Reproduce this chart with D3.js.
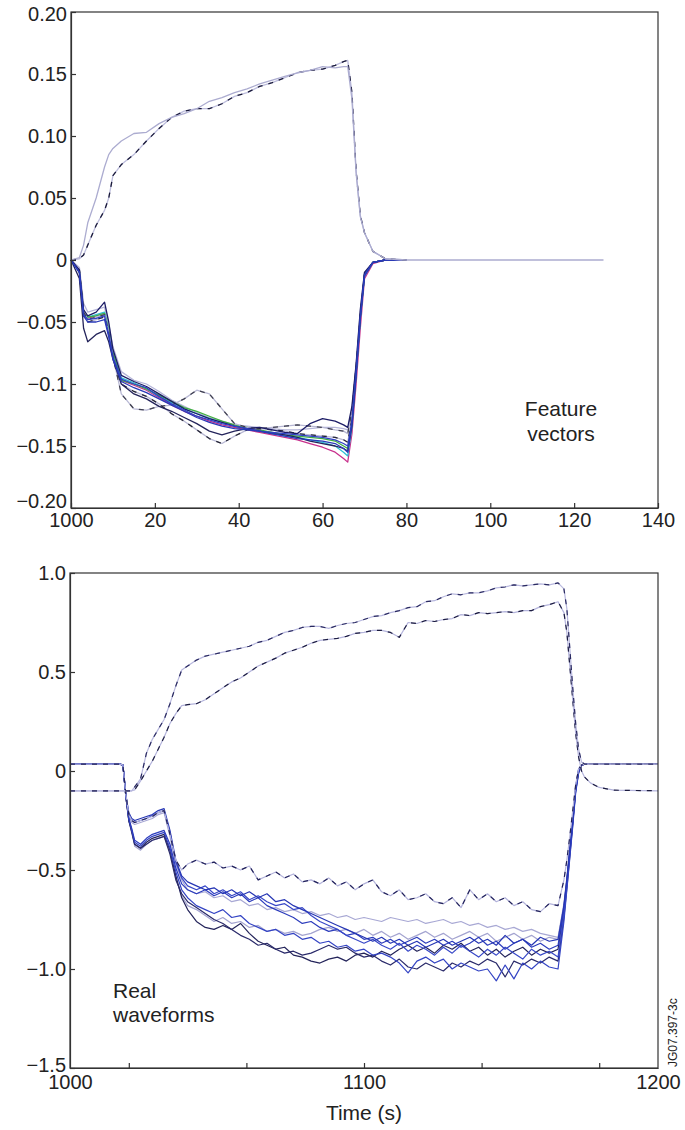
<!DOCTYPE html>
<html>
<head>
<meta charset="utf-8">
<script src="https://cdnjs.cloudflare.com/ajax/libs/d3/7.8.5/d3.min.js"></script>
<style>
body { margin: 0; background: #fff; }
svg text { font-family: "Liberation Sans", Arial, Helvetica, sans-serif; fill: #222; }
.axis text { font-size: 20px; }
.axis path, .axis line { stroke: #333; stroke-width: 1.2; }
.note { font-size: 21px; }
</style>
</head>
<body>
<svg id="chart" width="685" height="1130"></svg>
<script>
// ---- top panel: feature vectors ----
var featureIndex = [0, 2, 3, 4, 6, 8, 9, 10, 12, 15, 18, 21, 24, 27, 30, 33, 36, 39, 42, 45, 48, 51, 54, 57, 60, 63, 65, 66, 67, 68, 69, 70, 72, 75, 80, 127];

var fvPosA = [0, 0.002, 0.012, 0.03, 0.05, 0.075, 0.085, 0.09,
  0.096, 0.102, 0.103, 0.11, 0.115, 0.118, 0.122, 0.128, 0.131, 0.135, 0.138, 0.142, 0.145, 0.148, 0.151, 0.153, 0.156, 0.155,
  0.156, 0.156, 0.13, 0.07, 0.035, 0.022, 0.007, 0.001, 0, 0];
var fvPosB = [0, 0.001, 0.004, 0.012, 0.028, 0.04, 0.05, 0.068,
  0.077, 0.085, 0.096, 0.106, 0.115, 0.12, 0.122, 0.122, 0.126, 0.132, 0.135, 0.14, 0.143, 0.147, 0.151, 0.153, 0.154, 0.157,
  0.16, 0.161, 0.135, 0.072, 0.036, 0.022, 0.007, 0.001, 0];

var fvNeg1 = [0, -0.006, -0.035, -0.042, -0.04, -0.038, -0.052, -0.07,
  -0.09, -0.097, -0.1, -0.106, -0.113, -0.118, -0.123, -0.127, -0.13, -0.133, -0.134, -0.135, -0.136, -0.137, -0.137, -0.136, -0.135, -0.135,
  -0.136, -0.137, -0.12, -0.085, -0.042, -0.01, -0.002, 0, 0];
var fvNeg2 = [0, -0.008, -0.04, -0.045, -0.042, -0.034, -0.05, -0.072,
  -0.093, -0.098, -0.102, -0.108, -0.114, -0.12, -0.124, -0.128, -0.131, -0.134, -0.136, -0.135, -0.137, -0.139, -0.14, -0.132, -0.128, -0.13,
  -0.133, -0.135, -0.118, -0.084, -0.04, -0.01, -0.002, 0, 0];
var fvNeg3 = [0, -0.01, -0.044, -0.048, -0.047, -0.045, -0.06, -0.078,
  -0.096, -0.1, -0.103, -0.11, -0.116, -0.121, -0.126, -0.129, -0.132, -0.134, -0.136, -0.138, -0.139, -0.14, -0.141, -0.142, -0.143, -0.145,
  -0.148, -0.15, -0.13, -0.09, -0.046, -0.012, -0.002, 0, 0];
var fvNeg4 = [0, -0.01, -0.045, -0.05, -0.05, -0.048, -0.062, -0.08,
  -0.098, -0.103, -0.107, -0.112, -0.117, -0.122, -0.127, -0.131, -0.134, -0.136, -0.137, -0.138, -0.14, -0.142, -0.144, -0.145, -0.146, -0.148,
  -0.152, -0.155, -0.132, -0.092, -0.047, -0.013, -0.002, 0, 0];
var fvNeg5 = [0, -0.015, -0.055, -0.066, -0.06, -0.057, -0.066, -0.08,
  -0.1, -0.108, -0.112, -0.118, -0.122, -0.127, -0.132, -0.138, -0.141, -0.138, -0.136, -0.138, -0.14, -0.141, -0.143, -0.146, -0.148, -0.15,
  -0.152, -0.154, -0.134, -0.092, -0.046, -0.012, -0.002, 0, 0];
var fvNeg6 = [0, -0.008, -0.042, -0.048, -0.046, -0.044, -0.058, -0.078,
  -0.108, -0.12, -0.121, -0.118, -0.117, -0.112, -0.105, -0.108, -0.12, -0.132, -0.135, -0.136, -0.135, -0.134, -0.133, -0.134, -0.135, -0.137,
  -0.138, -0.14, -0.122, -0.086, -0.044, -0.011, -0.002, 0, 0];
var fvNeg7 = [0, -0.01, -0.045, -0.05, -0.048, -0.046, -0.06, -0.078,
  -0.1, -0.106, -0.11, -0.116, -0.124, -0.13, -0.137, -0.144, -0.148, -0.142, -0.137, -0.136, -0.137, -0.138, -0.14, -0.141, -0.142, -0.143,
  -0.145, -0.147, -0.128, -0.09, -0.045, -0.012, -0.002, 0, 0];
var fvNeg8 = [0, -0.009, -0.043, -0.047, -0.045, -0.043, -0.057, -0.076,
  -0.097, -0.101, -0.105, -0.111, -0.117, -0.122, -0.126, -0.13, -0.133, -0.135, -0.137, -0.139, -0.141, -0.143, -0.145, -0.148, -0.151, -0.155,
  -0.16, -0.163, -0.14, -0.1, -0.055, -0.015, -0.003, 0, 0];
var fvNeg9 = [0, -0.009, -0.043, -0.046, -0.044, -0.042, -0.056, -0.074,
  -0.095, -0.099, -0.104, -0.11, -0.115, -0.12, -0.124, -0.128, -0.131, -0.134, -0.136, -0.138, -0.14, -0.142, -0.143, -0.145, -0.147, -0.15,
  -0.155, -0.158, -0.135, -0.093, -0.048, -0.013, -0.002, 0, 0];
var fvNeg10 = [0, -0.009, -0.043, -0.046, -0.045, -0.043, -0.057, -0.075,
  -0.097, -0.1, -0.104, -0.109, -0.114, -0.119, -0.122, -0.126, -0.13, -0.133, -0.135, -0.137, -0.139, -0.141, -0.142, -0.143, -0.144, -0.146,
  -0.15, -0.152, -0.13, -0.09, -0.046, -0.012, -0.002, 0, 0];

var topXTicks = [0, 20, 40, 60, 80, 100, 120, 140];
var topXLabels = ["1000", "20", "40", "60", "80", "100", "120", "140"];
var topYTicks = [0.2, 0.15, 0.1, 0.05, 0, -0.05, -0.1, -0.15, -0.2];
var topYLabels = ["0.20", "0.15", "0.10", "0.05", "0", "\u22120.05", "\u22120.1", "\u22120.15", "\u22120.20"];

// ---- bottom panel: real waveforms ----
var timeS = [1000, 1017, 1018, 1019, 1020, 1021, 1022, 1024, 1026, 1028, 1030, 1032, 1034, 1036, 1038, 1040,
  1043, 1046, 1049, 1052, 1055, 1058, 1061, 1064, 1067, 1070, 1073, 1076, 1079, 1082, 1085, 1088, 1091, 1094, 1097, 1100, 1103,
  1106, 1109, 1112, 1115, 1118, 1121, 1124, 1127, 1130, 1133, 1136, 1139, 1142, 1145, 1148, 1151, 1154, 1157, 1160, 1163, 1166,
  1168, 1169, 1170, 1171, 1172, 1173, 1174, 1175, 1177, 1180, 1185, 1200];

var rwPos1 = [-0.1, -0.1, -0.1, -0.1, -0.1, -0.1, -0.08, -0.04, 0.09, 0.16, 0.21, 0.26, 0.34, 0.43, 0.51, 0.53,
  0.56, 0.58, 0.59, 0.6, 0.61, 0.62, 0.63, 0.65, 0.66, 0.68, 0.7, 0.71, 0.725, 0.73, 0.73, 0.72, 0.735, 0.745, 0.75, 0.765, 0.78,
  0.785, 0.8, 0.81, 0.825, 0.83, 0.855, 0.86, 0.88, 0.895, 0.89, 0.9, 0.9, 0.91, 0.925, 0.93, 0.94, 0.935, 0.94, 0.945, 0.94, 0.95,
  0.92, 0.82, 0.62, 0.42, 0.24, 0.11, 0.045, 0.035, 0.035, 0.035, 0.035, 0.035];
var rwPos2 = [-0.1, -0.1, -0.1, -0.1, -0.1, -0.1, -0.095, -0.05, 0.0, 0.05, 0.11, 0.17, 0.24, 0.29, 0.33, 0.335,
  0.34, 0.36, 0.39, 0.42, 0.45, 0.47, 0.5, 0.53, 0.55, 0.57, 0.595, 0.61, 0.625, 0.645, 0.66, 0.665, 0.67, 0.68, 0.695, 0.7, 0.71,
  0.71, 0.7, 0.675, 0.75, 0.745, 0.76, 0.755, 0.765, 0.77, 0.79, 0.785, 0.8, 0.795, 0.8, 0.805, 0.8, 0.81, 0.81, 0.83, 0.84, 0.855,
  0.8, 0.7, 0.53, 0.36, 0.19, 0.07, 0.0, -0.03, -0.06, -0.083, -0.097, -0.1];

var rwNeg1 = [0.035, 0.035, 0.03, -0.12, -0.22, -0.25, -0.26, -0.25, -0.24, -0.23, -0.21, -0.2, -0.32, -0.45, -0.5, -0.47,
  -0.45, -0.47, -0.46, -0.49, -0.48, -0.5, -0.48, -0.55, -0.53, -0.51, -0.54, -0.52, -0.56, -0.55, -0.57, -0.54, -0.58, -0.56, -0.6, -0.57, -0.55,
  -0.61, -0.63, -0.6, -0.65, -0.64, -0.62, -0.66, -0.67, -0.64, -0.69, -0.6, -0.65, -0.62, -0.66, -0.64, -0.68, -0.66, -0.7, -0.71, -0.67, -0.68,
  -0.55, -0.45, -0.33, -0.2, -0.07, 0.01, 0.03, 0.035, 0.035, 0.035, 0.035, 0.035];
var rwNeg2 = [0.035, 0.035, 0.03, -0.12, -0.21, -0.24, -0.25, -0.24, -0.23, -0.22, -0.2, -0.19, -0.3, -0.45, -0.53, -0.56,
  -0.58, -0.6, -0.59, -0.62, -0.6, -0.63, -0.61, -0.64, -0.62, -0.66, -0.65, -0.68, -0.7, -0.72, -0.74, -0.76, -0.78, -0.8, -0.82, -0.84, -0.86,
  -0.84, -0.87, -0.85, -0.88, -0.86, -0.89, -0.87, -0.85, -0.88, -0.86, -0.84, -0.87, -0.85, -0.88, -0.83, -0.87, -0.85, -0.88, -0.84, -0.86, -0.85,
  -0.68, -0.55, -0.4, -0.25, -0.09, 0.0, 0.03, 0.035, 0.035, 0.035, 0.035, 0.035];
var rwNeg3 = [0.035, 0.035, 0.03, -0.13, -0.23, -0.26, -0.27, -0.26, -0.25, -0.24, -0.22, -0.21, -0.33, -0.47, -0.55, -0.6,
  -0.62, -0.61, -0.64, -0.63, -0.66, -0.65, -0.68, -0.67, -0.7, -0.69, -0.71, -0.7, -0.72, -0.71, -0.73, -0.72, -0.74, -0.73, -0.75, -0.74, -0.75,
  -0.76, -0.74, -0.75, -0.76, -0.75, -0.77, -0.76, -0.75, -0.77, -0.76, -0.78, -0.77, -0.79, -0.78, -0.8, -0.79, -0.81, -0.8, -0.82, -0.83, -0.84,
  -0.67, -0.54, -0.39, -0.24, -0.08, 0.01, 0.03, 0.035, 0.035, 0.035, 0.035, 0.035];
var rwNeg4 = [0.035, 0.035, 0.03, -0.12, -0.22, -0.25, -0.26, -0.25, -0.24, -0.225, -0.21, -0.2, -0.31, -0.46, -0.54, -0.58,
  -0.6, -0.58, -0.62, -0.6, -0.63, -0.61, -0.65, -0.63, -0.66, -0.68, -0.67, -0.7, -0.69, -0.73, -0.76, -0.78, -0.8, -0.83, -0.85, -0.87, -0.85,
  -0.88, -0.9, -0.87, -0.91, -0.88, -0.9, -0.93, -0.89, -0.92, -0.88, -0.91, -0.94, -0.9, -0.93, -0.89, -0.92, -0.95, -0.9, -0.93, -0.91, -0.94,
  -0.72, -0.57, -0.42, -0.26, -0.1, 0.0, 0.03, 0.035, 0.035, 0.035, 0.035, 0.035];
var rwNeg5 = [0.035, 0.035, 0.03, -0.13, -0.25, -0.3, -0.37, -0.39, -0.36, -0.34, -0.33, -0.32, -0.4, -0.53, -0.64, -0.7,
  -0.76, -0.79, -0.8, -0.78, -0.8, -0.77, -0.82, -0.86, -0.88, -0.9, -0.89, -0.93, -0.94, -0.96, -0.97, -0.95, -0.94, -0.96, -0.93, -0.92, -0.94,
  -0.91, -0.93, -0.9, -0.88, -0.91, -0.89, -0.92, -0.88, -0.9, -0.87, -0.91, -0.89, -0.93, -0.9, -0.94, -0.91, -0.89, -0.93, -0.9, -0.92, -0.9,
  -0.7, -0.56, -0.41, -0.26, -0.09, 0.0, 0.03, 0.035, 0.035, 0.035, 0.035, 0.035];
var rwNeg6 = [0.035, 0.035, 0.03, -0.13, -0.24, -0.3, -0.36, -0.38, -0.35, -0.33, -0.32, -0.31, -0.39, -0.51, -0.6, -0.64,
  -0.68, -0.7, -0.72, -0.7, -0.74, -0.73, -0.77, -0.79, -0.81, -0.8, -0.83, -0.82, -0.85, -0.84, -0.87, -0.86, -0.89, -0.88, -0.91, -0.9, -0.93,
  -0.92, -0.94, -0.97, -1.02, -0.96, -0.94, -0.97, -0.95, -1.0, -0.97, -0.99, -1.01, -1.0, -1.06, -0.98, -1.05, -0.97, -1.0, -0.96, -0.99, -1.0,
  -0.76, -0.6, -0.44, -0.28, -0.11, -0.01, 0.03, 0.035, 0.035, 0.035, 0.035, 0.035];
var rwNeg7 = [0.035, 0.035, 0.03, -0.12, -0.24, -0.29, -0.35, -0.37, -0.34, -0.32, -0.31, -0.3, -0.37, -0.49, -0.57, -0.6,
  -0.62, -0.6, -0.63, -0.61, -0.64, -0.62, -0.66, -0.64, -0.68, -0.7, -0.72, -0.74, -0.77, -0.76, -0.79, -0.81, -0.8, -0.83, -0.82, -0.85, -0.84,
  -0.87, -0.85, -0.88, -0.86, -0.84, -0.87, -0.85, -0.88, -0.86, -0.89, -0.87, -0.84, -0.88, -0.86, -0.9, -0.87, -0.85, -0.89, -0.87, -0.9, -0.88,
  -0.69, -0.55, -0.4, -0.25, -0.08, 0.01, 0.03, 0.035, 0.035, 0.035, 0.035, 0.035];
var rwNeg8 = [0.035, 0.035, 0.03, -0.13, -0.25, -0.31, -0.38, -0.4, -0.37, -0.35, -0.34, -0.33, -0.41, -0.54, -0.63, -0.68,
  -0.7, -0.73, -0.76, -0.74, -0.77, -0.76, -0.79, -0.78, -0.81, -0.8, -0.82, -0.81, -0.83, -0.82, -0.8, -0.79, -0.81, -0.8, -0.82, -0.8, -0.83,
  -0.81, -0.84, -0.82, -0.85, -0.83, -0.81, -0.84, -0.82, -0.85, -0.83, -0.81, -0.84, -0.82, -0.86, -0.84, -0.82, -0.85, -0.83, -0.86, -0.84, -0.85,
  -0.68, -0.54, -0.39, -0.24, -0.08, 0.01, 0.03, 0.035, 0.035, 0.035, 0.035, 0.035];
var rwNeg9 = [0.035, 0.035, 0.03, -0.13, -0.25, -0.31, -0.37, -0.39, -0.37, -0.35, -0.34, -0.33, -0.42, -0.55, -0.62, -0.66,
  -0.69, -0.72, -0.75, -0.77, -0.8, -0.83, -0.85, -0.88, -0.87, -0.9, -0.92, -0.91, -0.93, -0.92, -0.9, -0.88, -0.9, -0.89, -0.92, -0.94, -0.93,
  -0.96, -0.98, -0.95, -0.99, -1.0, -0.97, -0.99, -1.01, -0.97, -0.99, -0.96, -0.98, -0.95, -0.97, -1.04, -0.96, -0.98, -0.95, -0.97, -0.94, -0.96,
  -0.74, -0.59, -0.43, -0.27, -0.1, -0.01, 0.03, 0.035, 0.035, 0.035, 0.035, 0.035];

var botXTicks = [1020, 1060, 1100, 1140, 1180];
var botXLabels = [1000, 1100, 1200];
var botYTicks = [1.0, 0.5, 0, -0.5, -1.0, -1.5];
var botYLabels = ["1.0", "0.5", "0", "\u22120.5", "\u22121.0", "\u22121.5"];

// draw order, bottom to top; dash = dark dashes laid over a pale line
var topSeries = [
  {v: fvNeg1, color: "#b4b4d8"}, {v: fvNeg8, color: "#c8308c"}, {v: fvNeg9, color: "#30c0d4"},
  {v: fvNeg10, color: "#40b040"}, {v: fvNeg6, color: "#b8b8d4", dash: "#404050"},
  {v: fvNeg7, color: "#b8b8d4", dash: "#252535"}, {v: fvNeg5, color: "#23235a"},
  {v: fvNeg2, color: "#1c1c66"}, {v: fvNeg3, color: "#3040c4"}, {v: fvNeg4, color: "#2a3ab8"},
  {v: fvPosB, color: "#bcbcdc", dash: "#1a1a3a"}, {v: fvPosA, color: "#acacd0"}
];
var botSeries = [
  {v: rwNeg3, color: "#a8a8d4"}, {v: rwNeg8, color: "#a4a4d0"}, {v: rwNeg5, color: "#24245a"},
  {v: rwNeg9, color: "#2a2a6a"}, {v: rwNeg6, color: "#3444c4"}, {v: rwNeg7, color: "#2c3cbc"},
  {v: rwNeg4, color: "#3848c8"}, {v: rwNeg2, color: "#2636b4"},
  {v: rwNeg1, color: "#b4b4dc", dash: "#22225a"},
  {v: rwPos2, color: "#b4b4dc", dash: "#1c1c40"}, {v: rwPos1, color: "#b8b8de", dash: "#2a2a60"}
];

var svg = d3.select("#chart");

function drawLines(xs, xScale, yScale, series, width) {
  var g = svg.append("g").attr("fill", "none").attr("stroke-linejoin", "round");
  var line = d3.line()
    .x(function(d, i) { return xScale(xs[i]); })
    .y(function(d) { return yScale(d); });
  series.forEach(function(s) {
    g.append("path").attr("d", line(s.v))
      .attr("stroke", s.color).attr("stroke-width", width);
    if (s.dash) {
      g.append("path").attr("d", line(s.v))
        .attr("stroke", s.dash).attr("stroke-width", width)
        .attr("stroke-dasharray", "5,6");
    }
  });
}

function frame(xScale, yScale) {
  var xd = xScale.domain(), yd = yScale.domain();
  svg.append("rect")
    .attr("x", xScale(xd[0])).attr("y", yScale(yd[1]))
    .attr("width", xScale(xd[1]) - xScale(xd[0]))
    .attr("height", yScale(yd[0]) - yScale(yd[1]))
    .attr("fill", "none").attr("stroke", "#333").attr("stroke-width", 1.2);
}

// top panel
var xT = d3.scaleLinear().domain([0, 140]).range([71, 658]);
var yT = d3.scaleLinear().domain([-0.2, 0.2]).range([508, 12]);

drawLines(featureIndex, xT, yT, topSeries, 1.3);
frame(xT, yT);

var topY = svg.append("g").attr("class", "axis")
  .attr("transform", "translate(" + xT(0) + ",0)")
  .call(d3.axisLeft(yT).tickValues(topYTicks)
    .tickFormat(function(d, i) { return topYLabels[i]; })
    .tickSizeInner(-5).tickSizeOuter(0).tickPadding(4));
topY.selectAll(".tick text").filter(function(d) { return d === -0.2; }).attr("dy", "-0.04em");
topY.selectAll(".tick text").filter(function(d) { return d === 0.2; }).attr("dy", "0.44em");

svg.append("g").attr("class", "axis")
  .attr("transform", "translate(0," + yT(-0.2) + ")")
  .call(d3.axisBottom(xT).tickValues(topXTicks)
    .tickFormat(function(d, i) { return topXLabels[i]; })
    .tickSizeInner(-5).tickSizeOuter(0).tickPadding(5));

var fvNote = svg.append("text").attr("class", "note").attr("text-anchor", "middle");
fvNote.append("tspan").attr("x", 561).attr("y", 416).text("Feature");
fvNote.append("tspan").attr("x", 561).attr("y", 441).text("vectors");

// bottom panel
var xB = d3.scaleLinear().domain([1000, 1200]).range([70, 658]);
var yB = d3.scaleLinear().domain([-1.5, 1.0]).range([1068, 573]);

drawLines(timeS, xB, yB, botSeries, 1.2);
frame(xB, yB);

var botY = svg.append("g").attr("class", "axis")
  .attr("transform", "translate(" + xB(1000) + ",0)")
  .call(d3.axisLeft(yB).tickValues(botYTicks)
    .tickFormat(function(d, i) { return botYLabels[i]; })
    .tickSizeInner(-5).tickSizeOuter(0).tickPadding(4));
botY.selectAll(".tick text").filter(function(d) { return d === -1.5; }).attr("dy", "0.16em");

svg.append("g").attr("class", "axis")
  .attr("transform", "translate(0," + yB(-1.5) + ")")
  .call(d3.axisBottom(xB).tickValues(botXTicks).tickFormat("")
    .tickSizeInner(-5).tickSizeOuter(0));
svg.append("g").attr("class", "axis")
  .attr("transform", "translate(0," + yB(-1.5) + ")")
  .call(d3.axisBottom(xB).tickValues(botXLabels).tickFormat(d3.format("d"))
    .tickSize(0).tickPadding(7))
  .select(".domain").remove();

var rwNote = svg.append("text").attr("class", "note");
rwNote.append("tspan").attr("x", 113).attr("y", 998).text("Real");
rwNote.append("tspan").attr("x", 113).attr("y", 1022).text("waveforms");

svg.append("text").attr("class", "note").attr("text-anchor", "middle")
  .attr("x", xB(1100)).attr("y", 1120).text("Time (s)");

svg.append("text").attr("transform", "translate(677,1067) rotate(-90)")
  .style("font-size", "12px").text("JG07.397-3c");
</script>
</body>
</html>
